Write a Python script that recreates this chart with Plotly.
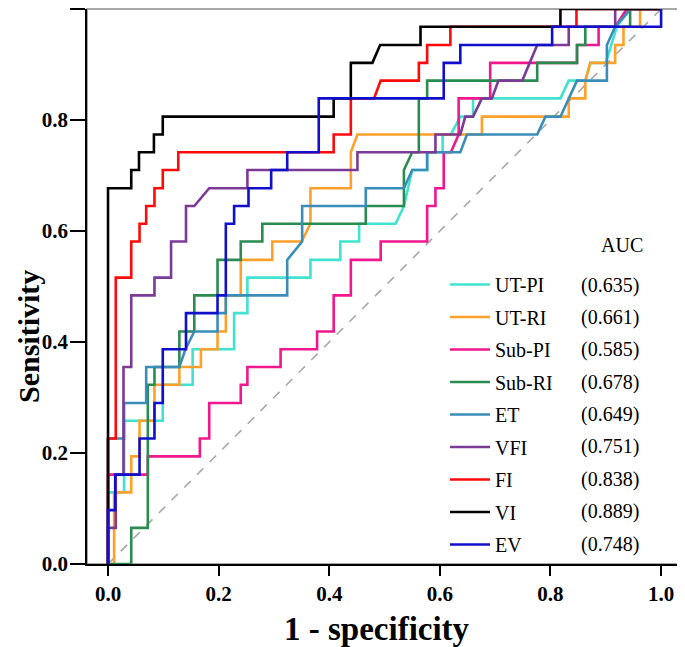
import plotly.graph_objects as go

# ---- data ----
names = ["UT-PI", "UT-RI", "Sub-PI", "Sub-RI", "ET", "VFI", "FI", "VI", "EV"]
auc_labels = ["(0.635)", "(0.661)", "(0.585)", "(0.678)", "(0.649)", "(0.751)", "(0.838)", "(0.889)", "(0.748)"]
colors = ["#3FE3CF", "#FFA128", "#F0178F", "#2A8B50", "#3A8DB8", "#7B3A96", "#FF0A0A", "#000000", "#1010CC"]

ut_pi_fpr = [0, 0, 0.029, 0.029, 0.099, 0.099, 0.153, 0.153, 0.228, 0.228, 0.252, 0.252, 0.366, 0.366, 0.420, 0.420, 0.454, 0.454, 0.520, 0.535, 0.550, 0.577, 0.577, 0.605, 0.605, 0.620, 0.637, 0.660, 0.660, 0.818, 0.833, 0.863, 0.872, 0.900, 0.920, 0.944, 1]
ut_pi_tpr = [0, 0.129, 0.129, 0.258, 0.258, 0.323, 0.323, 0.387, 0.387, 0.452, 0.452, 0.516, 0.516, 0.548, 0.548, 0.581, 0.581, 0.613, 0.613, 0.645, 0.710, 0.710, 0.742, 0.742, 0.774, 0.774, 0.806, 0.806, 0.839, 0.839, 0.871, 0.871, 0.903, 0.903, 0.968, 1, 1]

ut_ri_fpr = [0, 0.011, 0.011, 0.042, 0.042, 0.057, 0.057, 0.084, 0.084, 0.129, 0.129, 0.168, 0.168, 0.198, 0.198, 0.213, 0.213, 0.240, 0.240, 0.297, 0.297, 0.350, 0.366, 0.366, 0.439, 0.439, 0.451, 0.676, 0.676, 0.833, 0.833, 0.863, 0.863, 0.872, 0.917, 0.917, 0.932, 0.932, 0.962, 0.962, 1]
ut_ri_tpr = [0, 0, 0.129, 0.129, 0.194, 0.194, 0.258, 0.258, 0.323, 0.323, 0.355, 0.355, 0.387, 0.387, 0.419, 0.419, 0.484, 0.484, 0.548, 0.548, 0.581, 0.581, 0.613, 0.677, 0.677, 0.742, 0.774, 0.774, 0.806, 0.806, 0.839, 0.839, 0.871, 0.903, 0.903, 0.935, 0.935, 0.968, 0.968, 1, 1]

sub_pi_fpr = [0, 0, 0.072, 0.072, 0.166, 0.166, 0.183, 0.183, 0.240, 0.240, 0.252, 0.252, 0.312, 0.312, 0.378, 0.378, 0.408, 0.408, 0.439, 0.439, 0.493, 0.493, 0.577, 0.577, 0.592, 0.592, 0.607, 0.607, 0.620, 0.634, 0.634, 0.691, 0.691, 0.848, 0.848, 0.887, 0.887, 0.917, 0.938, 1]
sub_pi_tpr = [0, 0.161, 0.161, 0.194, 0.194, 0.226, 0.226, 0.290, 0.290, 0.323, 0.323, 0.355, 0.355, 0.387, 0.387, 0.419, 0.419, 0.484, 0.484, 0.548, 0.548, 0.581, 0.581, 0.645, 0.645, 0.677, 0.677, 0.742, 0.742, 0.774, 0.839, 0.839, 0.903, 0.903, 0.935, 0.935, 0.968, 0.968, 1, 1]

sub_ri_fpr = [0, 0.042, 0.042, 0.072, 0.072, 0.084, 0.084, 0.129, 0.129, 0.156, 0.156, 0.198, 0.198, 0.240, 0.240, 0.279, 0.279, 0.466, 0.466, 0.535, 0.535, 0.550, 0.562, 0.562, 0.577, 0.577, 0.776, 0.776, 0.848, 0.848, 0.863, 0.863, 0.944, 0.944, 1]
sub_ri_tpr = [0, 0, 0.065, 0.065, 0.323, 0.323, 0.355, 0.355, 0.419, 0.419, 0.484, 0.484, 0.548, 0.548, 0.581, 0.581, 0.613, 0.613, 0.645, 0.645, 0.710, 0.742, 0.742, 0.839, 0.839, 0.871, 0.871, 0.903, 0.903, 0.935, 0.935, 0.968, 0.968, 1, 1]

et_fpr = [0, 0, 0.029, 0.029, 0.069, 0.069, 0.129, 0.140, 0.156, 0.198, 0.198, 0.213, 0.213, 0.324, 0.324, 0.351, 0.351, 0.466, 0.466, 0.535, 0.550, 0.577, 0.577, 0.637, 0.649, 0.776, 0.791, 0.818, 0.848, 0.902, 0.902, 0.917, 0.945, 1]
et_tpr = [0, 0.226, 0.226, 0.290, 0.290, 0.355, 0.355, 0.387, 0.419, 0.419, 0.452, 0.452, 0.484, 0.484, 0.548, 0.581, 0.645, 0.645, 0.677, 0.677, 0.710, 0.710, 0.742, 0.742, 0.774, 0.774, 0.806, 0.806, 0.871, 0.871, 0.935, 0.968, 1, 1]

vfi_fpr = [0, 0, 0.014, 0.014, 0.028, 0.028, 0.042, 0.042, 0.084, 0.084, 0.114, 0.114, 0.141, 0.141, 0.156, 0.183, 0.252, 0.252, 0.451, 0.451, 0.592, 0.592, 0.637, 0.646, 0.660, 0.676, 0.694, 0.706, 0.749, 0.776, 0.833, 0.833, 0.917, 0.917, 1]
vfi_tpr = [0, 0.065, 0.065, 0.161, 0.161, 0.355, 0.355, 0.484, 0.484, 0.516, 0.516, 0.581, 0.581, 0.645, 0.645, 0.677, 0.677, 0.710, 0.710, 0.742, 0.742, 0.774, 0.774, 0.806, 0.806, 0.839, 0.839, 0.871, 0.871, 0.935, 0.935, 0.968, 0.968, 1, 1]

fi_fpr = [0, 0, 0.014, 0.014, 0.042, 0.042, 0.057, 0.057, 0.069, 0.069, 0.084, 0.084, 0.099, 0.099, 0.127, 0.127, 0.408, 0.408, 0.439, 0.439, 0.481, 0.493, 0.562, 0.562, 0.577, 0.577, 0.619, 0.619, 0.847, 0.847, 1]
fi_tpr = [0, 0.226, 0.226, 0.516, 0.516, 0.581, 0.581, 0.613, 0.613, 0.645, 0.645, 0.677, 0.677, 0.710, 0.710, 0.742, 0.742, 0.774, 0.774, 0.839, 0.839, 0.871, 0.871, 0.903, 0.903, 0.935, 0.935, 0.968, 0.968, 1, 1]

vi_fpr = [0, 0, 0.042, 0.042, 0.056, 0.056, 0.083, 0.083, 0.099, 0.099, 0.408, 0.408, 0.439, 0.439, 0.478, 0.492, 0.565, 0.565, 0.818, 0.818, 1]
vi_tpr = [0, 0.677, 0.677, 0.710, 0.710, 0.742, 0.742, 0.774, 0.774, 0.806, 0.806, 0.839, 0.839, 0.903, 0.903, 0.935, 0.935, 0.968, 0.968, 1, 1]

ev_fpr = [0, 0, 0.013, 0.013, 0.057, 0.057, 0.084, 0.084, 0.099, 0.099, 0.141, 0.141, 0.198, 0.198, 0.213, 0.213, 0.228, 0.228, 0.254, 0.254, 0.295, 0.295, 0.324, 0.324, 0.381, 0.381, 0.607, 0.607, 0.637, 0.637, 0.803, 0.803, 1, 1]
ev_tpr = [0, 0.097, 0.097, 0.161, 0.161, 0.226, 0.226, 0.290, 0.290, 0.387, 0.387, 0.452, 0.452, 0.484, 0.484, 0.613, 0.613, 0.645, 0.645, 0.677, 0.677, 0.710, 0.710, 0.742, 0.742, 0.839, 0.839, 0.903, 0.903, 0.935, 0.935, 0.968, 0.968, 1]

ref_x = [0, 1]
ref_y = [0, 1]

x_ticks = [0.0, 0.2, 0.4, 0.6, 0.8, 1.0]
x_ticktext = ["0.0", "0.2", "0.4", "0.6", "0.8", "1.0"]
y_ticks = [0.0, 0.2, 0.4, 0.6, 0.8, 1.0]
y_ticktext = ["0.0", "0.2", "0.4", "0.6", "0.8", "1.0"]
x_title = "1 - specificity"
y_title = "Sensitivity"
legend_header = "AUC"

series_fpr = [ut_pi_fpr, ut_ri_fpr, sub_pi_fpr, sub_ri_fpr, et_fpr, vfi_fpr, fi_fpr, vi_fpr, ev_fpr]
series_tpr = [ut_pi_tpr, ut_ri_tpr, sub_pi_tpr, sub_ri_tpr, et_tpr, vfi_tpr, fi_tpr, vi_tpr, ev_tpr]

SERIF = "Liberation Serif, Times New Roman, serif"

# the page adds an 8px body margin, so the figure is sized/placed to compensate
OFF = 8
PAGE_W, PAGE_H = 685, 647
W, H = PAGE_W - OFF, PAGE_H - OFF
PLOT_L, PLOT_R, PLOT_T, PLOT_B = 87, 681, 9, 564   # plot box in page pixels
ML, MR, MT, MB = PLOT_L - OFF, PAGE_W - PLOT_R, PLOT_T - OFF, PAGE_H - PLOT_B
PW = PLOT_R - PLOT_L
PH = PLOT_B - PLOT_T


def px_x(px):
    return (px - PLOT_L) / PW


def px_y(py):
    return (PLOT_B - py) / PH


fig = go.Figure()
fig.add_trace(go.Scatter(x=ref_x, y=ref_y, mode="lines", showlegend=False,
                         line=dict(color="#A8A8A8", width=1.6, dash="dash"), hoverinfo="skip"))
for i, nm in enumerate(names):
    fig.add_trace(go.Scatter(x=series_fpr[i], y=series_tpr[i], mode="lines", name=nm,
                             legendgroup=nm, line=dict(color=colors[i], width=2.6)))

# legend rows (pixel rows) for AUC labels
row0, row_step = 285, 32.4
annotations = []
for i, lab in enumerate(auc_labels):
    py = row0 + row_step * i
    annotations.append(dict(text=lab, xref="paper", yref="paper", x=px_x(641),
                            y=px_y(py), xanchor="right", yanchor="middle", showarrow=False,
                            font=dict(family=SERIF, size=20, color="black")))
annotations.append(dict(text=legend_header, xref="paper", yref="paper", x=px_x(622),
                        y=px_y(245), xanchor="center", yanchor="middle", showarrow=False,
                        font=dict(family=SERIF, size=20, color="black")))
annotations.append(dict(text="<b>" + x_title + "</b>", xref="paper", yref="paper", x=px_x(377),
                        y=px_y(629), xanchor="center", yanchor="middle", showarrow=False,
                        font=dict(family=SERIF, size=33, color="black")))
annotations.append(dict(text="<b>" + y_title + "</b>", xref="paper", yref="paper", x=px_x(28),
                        y=px_y(337), xanchor="center", yanchor="middle", showarrow=False,
                        textangle=-90, font=dict(family=SERIF, size=30, color="black")))

fig.update_layout(
    width=W, height=H,
    margin=dict(l=ML, r=MR, t=MT, b=MB, autoexpand=False),
    paper_bgcolor="white", plot_bgcolor="white",
    font=dict(family=SERIF, color="black"),
    showlegend=True,
    legend=dict(x=px_x(445), y=px_y(265), xanchor="left", yanchor="top",
                bgcolor="rgba(255,255,255,0)", borderwidth=0, tracegroupgap=3.5,
                font=dict(family=SERIF, size=20, color="black"), itemwidth=40),
    xaxis=dict(range=[-0.038, 1.036], tickvals=x_ticks, ticktext=x_ticktext, showgrid=False,
               zeroline=False, showline=True, linecolor="black", linewidth=1.5,
               ticks="outside", ticklen=10, tickwidth=1.5, tickcolor="black", automargin=False,
               tickfont=dict(family=SERIF, size=21, color="black", weight="bold")),
    yaxis=dict(range=[0, 1], tickvals=y_ticks, ticktext=y_ticktext, showgrid=False,
               zeroline=False, showline=True, linecolor="black", linewidth=1.5,
               ticks="outside", ticklen=15, tickwidth=1.5, tickcolor="black", automargin=False,
               ticklabelstandoff=-2,
               tickfont=dict(family=SERIF, size=21, color="black", weight="bold")),
    shapes=[dict(type="rect", xref="paper", yref="paper", x0=0, y0=0, x1=1, y1=1,
                 line=dict(color="#8C8C8C", width=1.5), layer="below")],
    annotations=annotations,
)

fig.write_html("out.html")
